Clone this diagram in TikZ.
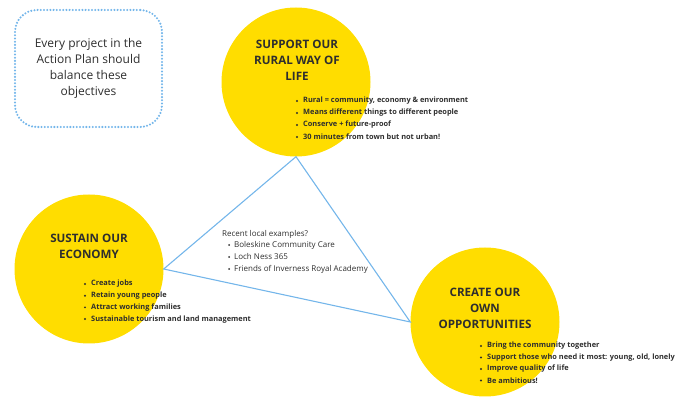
\documentclass[tikz,border=0pt]{standalone}
\usepackage{fontspec}
\setmainfont{Open Sans}
\usetikzlibrary{positioning,calc}
\definecolor{sunny}{HTML}{FFDD00}
\definecolor{skyline}{HTML}{74B6EA}
\definecolor{ink}{HTML}{2E2E2E}

\begin{document}
\begin{tikzpicture}[x=1pt,y=-1pt,
  goal/.style={circle,fill=sunny,minimum size=149pt,inner sep=0pt},
  heading/.style={font=\fontsize{11.6}{16}\selectfont\bfseries,text=ink,align=center,inner sep=0pt},
  point/.style={font=\fontsize{7.4}{10}\selectfont\bfseries,text=ink,anchor=west,inner sep=0pt},
  plain/.style={font=\fontsize{8}{10}\selectfont,text=ink,anchor=west,inner sep=0pt},
  dot/.style={circle,fill=ink,inner sep=0pt,minimum size=2.2pt}]

  \useasboundingbox (0,0) rectangle (689,398);

  % note box
  \node[draw=skyline,line width=2.3pt,dash pattern=on 0pt off 3.2pt,line cap=round,
        rounded corners=22pt,minimum width=147pt,minimum height=117pt,
        font=\fontsize{12}{16}\selectfont,text=ink,align=center] (note) at (88.5,68.5)
        {Every project in the\\Action Plan should\\balance these\\objectives};

  % the three objectives
  \node[goal] (rural) at (296,82) {};
  \node[goal] (economy) at (89,269) {};
  \node[goal] (opps) at (485,322) {};

  \draw[skyline,line width=1.1pt] (rural.south) -- (economy.east) -- (opps.west) -- cycle;

  \node[heading] (ruralhead) at (297,60) {SUPPORT OUR\\RURAL WAY OF\\LIFE};
  \node[heading] (economyhead) at (89,246) {SUSTAIN OUR\\ECONOMY};
  \node[heading] (oppshead) at (485,308) {CREATE OUR\\OWN\\OPPORTUNITIES};

  \foreach \t [count=\i from 0] in {{Rural = community, economy \& environment},
      {Means different things to different people},{Conserve + future-proof},
      {30 minutes from town but not urban!}}{
    \node[dot] (ruralb\i) at (297,101+12*\i) {};
    \node[point] (ruralt\i) at (303,101+12*\i) {\t};
  }

  \foreach \t [count=\i from 0] in {{Create jobs},{Retain young people},
      {Attract working families},{Sustainable tourism and land management}}{
    \node[dot] (economyb\i) at (85,284+11.7*\i) {};
    \node[point] (economyt\i) at (91,284+11.7*\i) {\t};
  }

  \foreach \t [count=\i from 0] in {{Bring the community together},
      {Support those who need it most: young, old, lonely},
      {Improve quality of life},{Be ambitious!}}{
    \node[dot] (oppsb\i) at (481,346+11.5*\i) {};
    \node[point] (oppst\i) at (487,346+11.5*\i) {\t};
  }

  % examples in the middle
  \node[plain] (examples) at (222,234) {Recent local examples?};
  \foreach \t [count=\i from 0] in {{Boleskine Community Care},{Loch Ness 365},
      {Friends of Inverness Royal Academy}}{
    \node[dot,minimum size=2pt] (exampleb\i) at (229,245+12*\i) {};
    \node[plain] (examplet\i) at (234,245+12*\i) {\t};
  }

\end{tikzpicture}
\end{document}
